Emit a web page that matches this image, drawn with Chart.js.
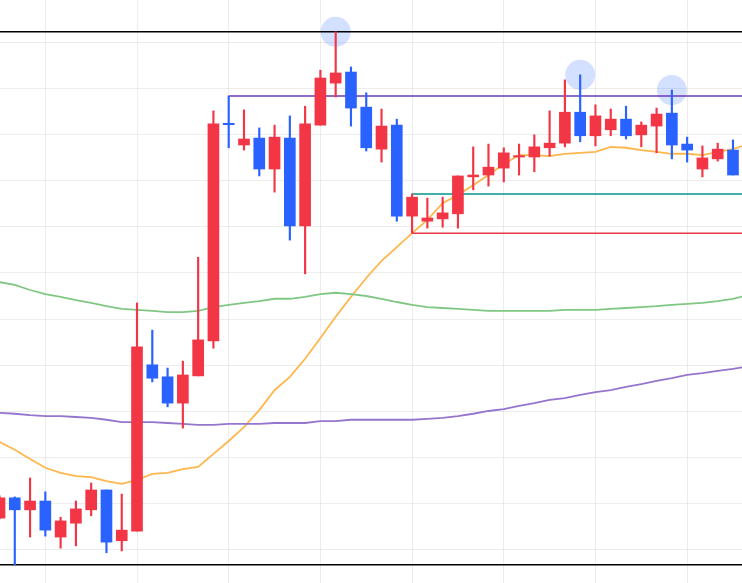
<!DOCTYPE html>
<html>
<head>
<meta charset="utf-8">
<script src="https://cdn.jsdelivr.net/npm/chart.js@4.4.1/dist/chart.umd.min.js"></script>
<style>
    html, body { margin: 0; padding: 0; background: #fff; overflow: hidden; }
    canvas { display: block; }
</style>
</head>
<body>
<canvas id="candleChart" width="742" height="583"></canvas>
<script>
// daily candles, oldest first
const opens = [106.9, 111.3, 108.7, 110.6, 102.8, 105.8, 108.7, 113.0, 102.0, 104.1,
    140.1, 137.5, 131.8, 137.7, 145.3, 192.4, 187.7, 189.2, 182.5, 189.2,
    170.2, 192.0, 201.1, 203.5, 195.9, 186.8, 192.0, 172.3, 171.2, 171.7,
    172.8, 180.8, 181.2, 182.7, 185.1, 185.1, 187.1, 188.1, 194.8, 189.7,
    191.0, 193.3, 189.9, 191.8, 194.6, 187.9, 182.5, 184.7, 186.6];
const highs = [111.7, 111.5, 115.6, 112.6, 107.1, 110.6, 114.5, 113.0, 112.1, 153.5,
    147.6, 139.4, 140.9, 163.4, 195.1, 198.3, 195.3, 191.4, 192.0, 194.0,
    196.1, 203.9, 212.2, 204.6, 199.0, 195.5, 193.3, 177.1, 176.2, 176.4,
    181.0, 187.3, 187.9, 187.1, 187.9, 189.9, 195.1, 201.8, 202.9, 196.4,
    195.5, 196.1, 192.7, 195.7, 199.6, 189.4, 187.5, 188.1, 188.8];
const lows = [106.7, 96.8, 102.8, 103.0, 100.4, 100.9, 107.4, 99.4, 99.8, 104.1,
    136.4, 131.0, 126.4, 137.7, 143.7, 187.1, 186.6, 181.0, 177.5, 167.1,
    159.8, 192.0, 198.1, 191.8, 186.4, 184.0, 171.2, 168.6, 169.7, 169.9,
    169.7, 178.0, 178.8, 179.7, 181.2, 181.9, 185.3, 187.3, 188.4, 187.5,
    189.7, 189.0, 187.3, 186.0, 184.7, 184.0, 180.8, 184.2, 181.2];
const closes = [111.3, 108.7, 110.6, 104.3, 106.3, 108.9, 113.0, 101.7, 104.3, 144.0,
    137.2, 131.8, 137.9, 145.5, 192.3, 192.1, 189.0, 182.5, 189.4, 170.2,
    192.3, 202.2, 203.3, 195.7, 187.1, 191.8, 172.3, 176.4, 171.9, 173.0,
    181.0, 181.2, 182.9, 186.0, 185.4, 187.3, 188.1, 194.8, 189.7, 194.0,
    193.3, 189.7, 192.0, 194.4, 187.7, 186.6, 184.9, 186.8, 181.2];

// moving averages (one extra value past the last candle)
const ma20 = [123.4, 121.7, 119.7, 117.8, 116.7, 116.0, 115.8, 114.9, 114.3, 115.2,
    116.5, 116.7, 117.5, 118.0, 120.8, 123.6, 126.6, 130.3, 134.6, 137.5,
    141.4, 145.9, 150.5, 154.8, 158.9, 162.6, 165.6, 168.6, 171.5, 175.1,
    176.9, 179.0, 181.2, 183.6, 185.5, 185.5, 185.3, 185.8, 186.0, 186.2,
    187.3, 187.1, 186.6, 186.2, 185.8, 185.8, 185.5, 186.2, 186.8, 187.9];
const ma60 = [158.0, 157.4, 156.3, 155.4, 154.8, 154.1, 153.5, 152.8, 152.2, 152.0,
    151.8, 151.5, 151.5, 151.8, 152.6, 153.1, 153.5, 153.9, 154.4, 154.4,
    154.8, 155.4, 155.7, 155.4, 155.0, 154.4, 153.7, 153.1, 152.6, 152.4,
    152.2, 152.0, 151.8, 151.8, 151.8, 151.8, 151.8, 152.0, 152.0, 152.0,
    152.2, 152.4, 152.6, 152.8, 153.1, 153.3, 153.5, 153.9, 154.4, 155.2];
const ma120 = [129.7, 129.5, 129.2, 129.0, 129.0, 128.8, 128.6, 128.2, 127.7, 127.7,
    127.7, 127.5, 127.3, 127.1, 127.1, 127.3, 127.3, 127.3, 127.5, 127.5,
    127.5, 127.9, 127.9, 128.2, 128.2, 128.2, 128.2, 128.2, 128.4, 128.6,
    129.0, 129.5, 130.1, 130.5, 131.2, 131.8, 132.5, 132.9, 133.6, 134.2,
    134.6, 135.3, 135.9, 136.6, 137.2, 137.9, 138.3, 138.8, 139.2, 139.8];

// highlighted highs, resistance candle, breakout box candle
const markedDays = [22, 38, 44];
const resistDay = 15;
const boxDay = 27;

// grid positions
const xTicks = [3, 9, 15, 21, 27, 33, 39, 45];
const yTicks = [100, 110, 120, 130, 140, 150, 160, 170, 180, 190, 200, 210];

document.addEventListener("DOMContentLoaded", function () {

    const canvas = document.getElementById("candleChart");
    if (!canvas || typeof Chart === "undefined") return;

    const ctx = canvas.getContext("2d");
    const upColor = "#f23645";
    const downColor = "#2962ff";
    const gridColor = "rgba(0,0,0,0.07)";
    const lastDay = opens.length;

    const days = opens.map((_, i) => i);
    const candleColors = days.map(i => closes[i] >= opens[i] ? upColor : downColor);
    const wicks = days.map(i => ({ x: i, y: [lows[i], highs[i]] }));
    const bodies = days.map(i => ({
        x: i,
        y: [Math.min(opens[i], closes[i]), Math.max(opens[i], closes[i])]
    }));

    const asPoints = arr => arr.map((v, i) => ({ x: i, y: v }));
    const level = (from, value) => [{ x: from, y: value }, { x: lastDay + 2, y: value }];

    const maxHigh = Math.max(...highs);
    const minLow = Math.min(...lows);

    function levelSet(data, color, order) {
        return {
            type: "line",
            data: data,
            borderColor: color,
            borderWidth: 1.5,
            pointRadius: 0,
            order: order
        };
    }

    function maSet(data, color) {
        return {
            type: "line",
            data: asPoints(data),
            borderColor: color,
            borderWidth: 1.8,
            pointRadius: 0,
            tension: 0,
            order: 6
        };
    }

    function drawChart() {
        new Chart(ctx, {
            type: "bar",
            data: {
                datasets: [
                    {
                        type: "line",
                        data: markedDays.map(i => ({ x: i, y: highs[i] })),
                        showLine: false,
                        pointRadius: 15,
                        pointBorderWidth: 0,
                        pointBackgroundColor: "rgba(41,98,255,0.2)",
                        order: 10
                    },
                    maSet(ma120, "#9575cd"),
                    maSet(ma60, "#81c784"),
                    maSet(ma20, "#ffb74d"),
                    levelSet(level(-2, maxHigh), "#000", 4),
                    levelSet(level(-2, minLow), "#000", 4),
                    levelSet(level(resistDay, highs[resistDay]), "#673ab7", 4),
                    levelSet(level(boxDay, highs[boxDay]), "#009688", 4),
                    levelSet(level(boxDay, lows[boxDay]), "#e53945", 4),
                    {
                        data: wicks,
                        backgroundColor: candleColors,
                        barThickness: 1.5,
                        grouped: false,
                        order: 2
                    },
                    {
                        data: bodies,
                        backgroundColor: candleColors,
                        barThickness: 11,
                        grouped: false,
                        order: 1
                    }
                ]
            },
            options: {
                responsive: false,
                animation: false,
                events: [],
                layout: { padding: 0, autoPadding: false },
                plugins: {
                    legend: { display: false },
                    tooltip: { enabled: false }
                },
                scales: {
                    x: {
                        type: "linear",
                        min: 0.033,
                        max: 48.59,
                        offset: false,
                        bounds: "data",
                        ticks: { display: false },
                        border: { display: false },
                        grid: { color: gridColor, drawTicks: false, offset: false },
                        afterBuildTicks: s => { s.ticks = xTicks.map(v => ({ value: v })); }
                    },
                    y: {
                        type: "linear",
                        min: 92.85,
                        max: 219.1,
                        bounds: "data",
                        ticks: { display: false },
                        border: { display: false },
                        grid: { color: gridColor, drawTicks: false },
                        afterBuildTicks: s => { s.ticks = yTicks.map(v => ({ value: v })); }
                    }
                }
            }
        });
    }

    drawChart();
});
</script>
</body>
</html>
